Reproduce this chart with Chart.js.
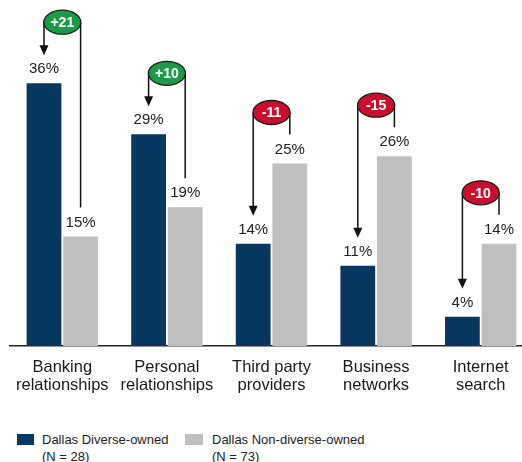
<!DOCTYPE html>
<html lang="en">
<head>
<meta charset="UTF-8">
<script src="https://cdn.jsdelivr.net/npm/chart.js"></script>
<title>Dallas sources</title>
<style>
    body { margin: 0; width: 522px; height: 462px; overflow: hidden; background: #fff; position: relative;
           font-family: Arial, "Liberation Sans", sans-serif; }
    #wrap { position: absolute; left: 0; top: 0; width: 533px; height: 400px; }
    .quadrado { position: absolute; top: 434px; height: 11px; }
    .legenda { position: absolute; top: 431px; font-size: 13px; line-height: 17px; color: #222; white-space: nowrap; }
</style>
</head>
<body>
    <div id="wrap"><canvas id="grafico" width="533" height="400"></canvas></div>

    <div class="quadrado" style="left:17px; width:17px; background:#08375f;"></div>
    <div class="legenda" style="left:42px;">Dallas Diverse-owned<br>(N = 28)</div>
    <div class="quadrado" style="left:185px; width:18px; background:#bfbfbf;"></div>
    <div class="legenda" style="left:212px;">Dallas Non-diverse-owned<br>(N = 73)</div>

<script>
    var categorias = [
        ['Banking', 'relationships'],
        ['Personal', 'relationships'],
        ['Third party', 'providers'],
        ['Business', 'networks'],
        ['Internet', 'search']
    ];
    var diverso = [36, 29, 14, 11, 4];
    var naoDiverso = [15, 19, 25, 26, 14];

    var corEscura = '#08375f';
    var corClara = '#bfbfbf';

    // rotulos de % e as "pilulas" de diferenca
    const rotulos = {
        id: 'rotulos',
        afterDatasetsDraw(chart) {
            const ctx = chart.ctx;
            const escuro = chart.getDatasetMeta(0).data;
            const claro = chart.getDatasetMeta(1).data;
            ctx.save();
            ctx.textAlign = 'center';
            ctx.textBaseline = 'middle';
            ctx.font = '15px Arial, "Liberation Sans"';
            ctx.fillStyle = '#222';
            for (let i = 0; i < diverso.length; i++) {
                ctx.fillText(diverso[i] + '%', escuro[i].x, escuro[i].y - 14);
                ctx.fillText(naoDiverso[i] + '%', claro[i].x, claro[i].y - 14);
            }

            for (let i = 0; i < diverso.length; i++) {
                const dif = diverso[i] - naoDiverso[i];
                const topo = Math.min(escuro[i].y, claro[i].y);
                const by = topo - (dif > 0 ? 61 : 51);
                const cx = (escuro[i].x + claro[i].x) / 2;
                const xe = escuro[i].x;
                const xc = claro[i].x;

                ctx.strokeStyle = '#111';
                ctx.fillStyle = '#111';
                ctx.lineWidth = 1.5;
                ctx.beginPath();
                ctx.moveTo(xe, by);
                ctx.lineTo(xe, escuro[i].y - 37);
                ctx.moveTo(xc, by);
                ctx.lineTo(xc, claro[i].y - 29);
                ctx.stroke();

                // ponta da seta
                ctx.beginPath();
                ctx.moveTo(xe - 4.5, escuro[i].y - 38);
                ctx.lineTo(xe + 4.5, escuro[i].y - 38);
                ctx.lineTo(xe, escuro[i].y - 28);
                ctx.closePath();
                ctx.fill();

                ctx.beginPath();
                ctx.ellipse(cx, by, 18.5, 12, 0, 0, Math.PI * 2);
                ctx.fillStyle = dif > 0 ? '#1c9a46' : '#c8102e';
                ctx.fill();
                ctx.strokeStyle = '#1a1a1a';
                ctx.lineWidth = 1.3;
                ctx.stroke();

                ctx.fillStyle = '#fff';
                ctx.font = 'bold 14px Arial, "Liberation Sans"';
                ctx.fillText((dif > 0 ? '+' : '') + dif, cx, by + 1);
                ctx.font = '15px Arial, "Liberation Sans"';
            }
            ctx.restore();
        }
    };

    new Chart(document.getElementById('grafico'), {
        type: 'bar',
        data: {
            labels: categorias,
            datasets: [
                { label: 'Dallas Diverse-owned (N = 28)', data: diverso, backgroundColor: corEscura,
                  categoryPercentage: 0.7, barPercentage: 0.95 },
                { label: 'Dallas Non-diverse-owned (N = 73)', data: naoDiverso, backgroundColor: corClara,
                  categoryPercentage: 0.7, barPercentage: 0.95 }
            ]
        },
        options: {
            responsive: false,
            animation: false,
            layout: { padding: { left: 10, right: 0, top: 0, bottom: 0 } },
            plugins: { legend: { display: false }, tooltip: { enabled: false } },
            scales: {
                y: { display: false, min: 0, max: 47.4 },
                x: {
                    grid: { display: false, drawTicks: false },
                    border: { display: true, color: '#222', width: 1.5 },
                    ticks: { padding: 12, color: '#1a1a1a', maxRotation: 0,
                             font: { family: 'Arial, "Liberation Sans"', size: 16.5, lineHeight: 1.1 } },
                    afterFit: function (s) { s.height = 54; }
                }
            }
        },
        plugins: [rotulos]
    });
</script>
</body>
</html>
